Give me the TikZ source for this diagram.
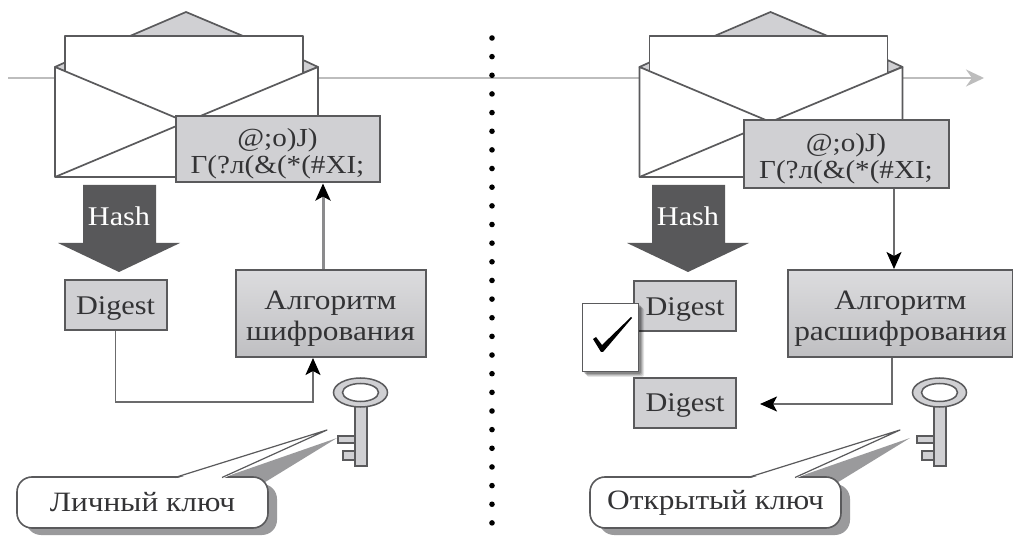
\documentclass[tikz,border=0pt]{standalone}
\usepackage{fontspec}
\setmainfont[FakeStretch=1.12]{Liberation Serif}
\usetikzlibrary{arrows.meta}
\definecolor{boxfill}{HTML}{D0D0D3}
\definecolor{boxedge}{HTML}{5A5A5C}
\definecolor{darkfill}{HTML}{58585A}
\definecolor{inkc}{HTML}{333335}
\definecolor{flow}{HTML}{BDBDBD}
\definecolor{shadowgray}{HTML}{9A9A9C}
\newcommand{\topstrut}[1]{\rule{0pt}{#1pt}}
\tikzset{
  x=1pt,y=-1pt,
  envline/.style={draw=boxedge,line width=1.7pt,line join=round},
  cipher/.style={draw=boxedge,line width=2pt,fill=boxfill,text=inkc,font=\fontsize{26}{27}\selectfont,align=center,inner sep=0pt},
  digestbox/.style={draw=boxedge,line width=2pt,fill=boxfill,text=inkc,font=\fontsize{27}{27}\selectfont,inner sep=0pt,minimum width=102pt,minimum height=50pt},
  algobox/.style={draw=boxedge,line width=2pt,top color=boxfill!75!white,bottom color=boxfill!92!black,text=inkc,font=\fontsize{28}{31}\selectfont,align=center,inner sep=0pt},
  callout/.style={draw=boxedge,line width=1.6pt,fill=white,rounded corners=15pt,text=inkc,font=\fontsize{28}{28}\selectfont,inner sep=0pt,minimum width=251pt,minimum height=51pt},
  conn/.style={draw=boxedge!90,line width=1.8pt,-{Stealth[length=17pt,width=15pt,inset=4pt,color=black]}},
  flowline/.style={draw=flow,line width=1.6pt,-{Stealth[length=18pt,width=17pt,inset=6pt]}},
  hashlabel/.style={text=white,font=\fontsize{27}{27}\selectfont,inner sep=0pt},
}
\newcommand{\envelopeart}[1]{%
\begin{scope}[xshift=#1pt]
  \path[envline,fill=boxfill] (130,36)--(186,12)--(243,36)--cycle;
  \path[envline,fill=boxfill] (55,67)--(66,62)--(66,72)--cycle;
  \path[envline,fill=boxfill] (318,67)--(303,60)--(303,73)--cycle;
  \path[envline,fill=white] (65,120)--(65,36)--(303,36)--(303,120)--cycle;
  \path[envline,fill=white] (55,67)--(186,122)--(318,67)--(318,177)--(55,177)--cycle;
  \draw[envline] (55,177)--(186,122);
\end{scope}}
\newcommand{\hasharrow}[2]{%
  \fill[darkfill] (#1-36,185)--(#1+37,185)--(#1+37,243)--(#1+61,243)--(#1,272)--(#1-61,243)--(#1-36,243)--cycle;
  \node[hashlabel] (#2) at (#1,216) {Hash};}
\newcommand{\keyart}[1]{%
\begin{scope}[xshift=#1pt]
  \path[draw=boxedge,line width=1.5pt,fill=boxfill] (338,436) rectangle (356,443);
  \path[draw=boxedge,line width=1.5pt,fill=boxfill] (343,451) rectangle (356,460);
  \path[draw=boxedge,line width=1.5pt,fill=boxfill] (355,406) rectangle (367,466);
  \path[draw=boxedge,line width=1.5pt,fill=boxfill,even odd rule] (360.5,392.5) ellipse [x radius=27,y radius=14.5] (360.5,392.5) ellipse [x radius=18,y radius=9];
\end{scope}}
\newcommand{\calloutart}[4]{%
\begin{scope}[xshift=#1pt]
  \fill[shadowgray,rounded corners=15pt] (26,484) rectangle (277,535);
  \fill[shadowgray] (222,478)--(337,438)--(262,484)--cycle;
\end{scope}
  \node[callout] (#2) at (#1+142.5,502.5) {#3};
\begin{scope}[xshift=#1pt]
  \fill[white] (175,479)--(327,430)--(222,479)--cycle;
  \draw[envline,line width=1.2pt] (175,477.5)--(327,430)--(222,477.5);
\end{scope}}
\begin{document}
\begin{tikzpicture}
\useasboundingbox (0,0) rectangle (1013,537);
\fill[white] (0,0) rectangle (1013,537);
\coordinate (flowstart) at (8,78);
\coordinate (flowend) at (984,78);
\draw[flowline] (flowstart) -- (flowend);
\foreach \n in {0,...,26} \fill[black] (492,38+18.65*\n) circle [radius=2.8];
\envelopeart{0}
\envelopeart{584.5}
\node[cipher,minimum width=204pt,minimum height=66pt] (cipherL) at (277.5,149.5) {\topstrut{26}@;o)J)\\Г(?л(\&(*(\#XI;};
\node[cipher,minimum width=205pt,minimum height=68pt] (cipherR) at (846,154.5) {\topstrut{26}@;o)J)\\Г(?л(\&(*(\#XI;};
\hasharrow{119}{hashL}
\hasharrow{688}{hashR}
\node[digestbox] (digL) at (115.5,305.5) {\topstrut{24}Digest};
\node[digestbox] (digR) at (685,306) {\topstrut{24}Digest};
\node[digestbox] (digRb) at (685,403) {\topstrut{22}Digest};
\node[algobox,minimum width=190pt,minimum height=87pt] (algoL) at (330.5,313.5) {\topstrut{28}Алгоритм\\шифрования};
\node[algobox,minimum width=225pt,minimum height=87pt] (algoR) at (900.5,313.5) {\topstrut{28}Алгоритм\\расшифрования};
\coordinate (upL) at (323,0);
\draw[conn,draw=boxedge!70,line width=3pt] (algoL.north -| upL) -- (cipherL.south -| upL);
\coordinate (inL) at (313,0);
\draw[conn] (digL.south) |- (313,402) -- (algoL.south -| inL);
\coordinate (downR) at (894,0);
\draw[conn] (cipherR.south -| downR) -- (algoR.north -| downR);
\coordinate (outR) at (892,0);
\coordinate (outRend) at (760,404);
\draw[conn] (algoR.south -| outR) |- (outRend);
\keyart{0}
\keyart{579}
\calloutart{0}{calloutL}{Личный ключ}{}
\calloutart{573}{calloutR}{Открытый ключ}{}
\foreach \o/\a in {5/.10,4/.12,3/.16,2/.20} \fill[black,opacity=\a,rounded corners=2pt] (582+\o,303+\o) rectangle (639+\o,372+\o);
\node[draw=boxedge,line width=1.6pt,fill=white,minimum width=56pt,minimum height=68pt,inner sep=0pt] (check) at (610.5,337.5) {};
\fill[black] (593,339)--(596,337)--(602,345)--(631,317)--(632,318)--(603,352)--(601,352)--cycle;
\end{tikzpicture}
\end{document}
